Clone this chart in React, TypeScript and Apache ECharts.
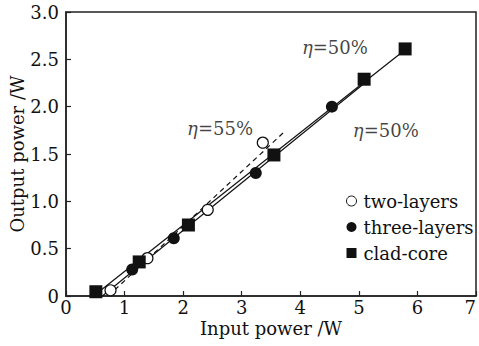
import React, { useEffect, useRef } from 'react';
import * as echarts from 'echarts';

const twoLayersX = [0.76, 1.39, 2.42, 3.36];
const twoLayersY = [0.06, 0.4, 0.91, 1.62];
const threeLayersX = [1.13, 1.84, 3.24, 4.54];
const threeLayersY = [0.28, 0.61, 1.3, 2.0];
const cladCoreX = [0.51, 1.25, 2.09, 3.55, 5.09, 5.79];
const cladCoreY = [0.045, 0.36, 0.75, 1.49, 2.29, 2.61];

const fitTwoX = [0.72, 3.72];
const fitTwoY = [0, 1.73];
const fitCladX = [0.47, 5.85];
const fitCladY = [0, 2.63];
const fitThreeX = [0.62, 5.1];
const fitThreeY = [0, 2.25];

const noteTexts = ['55%', '50%', '50%'];
const noteX = [2.63, 4.59, 5.46];
const noteY = [1.77, 2.63, 1.75];

const xTicks = [0, 1, 2, 3, 4, 5, 6, 7];
const yTickLabels = ['0', '0.5', '1.0', '1.5', '2.0', '2.5', '3.0'];

const zip = (xs: number[], ys: number[]) => xs.map((x, i) => [x, ys[i]]);

const FONT = 'DejaVu Serif';
const INK = '#111';
const FS = 18;

export default function App() {
  const ref = useRef<HTMLDivElement>(null);
  useEffect(() => {
    if (!ref.current) return;
    const chart = echarts.init(ref.current, undefined, { renderer: 'svg' });
    const fitStyle = { color: INK, width: 1.2 };
    chart.setOption({
      animation: false,
      backgroundColor: '#fff',
      textStyle: { fontFamily: FONT, color: INK },
      grid: {
        left: 66, right: 3, top: 12, bottom: 50,
        outerBoundsMode: 'none', containLabel: false,
        show: true, borderColor: '#222', borderWidth: 1.5, backgroundColor: 'transparent',
      },
      xAxis: {
        type: 'value', min: 0, max: xTicks[xTicks.length - 1], interval: 1,
        name: 'Input power /W', nameLocation: 'middle', nameGap: 23, nameMoveOverlap: false,
        nameTextStyle: { fontFamily: FONT, fontSize: FS, color: INK },
        axisLine: { show: true, lineStyle: { color: '#222', width: 1.5 } },
        axisTick: { show: true, inside: true, length: 5, lineStyle: { color: '#222', width: 1.2 } },
        axisLabel: { fontFamily: FONT, fontSize: FS, color: INK, margin: 2, alignMaxLabel: 'right',
          formatter: (v: number) => String(v) },
        splitLine: { show: false },
      },
      yAxis: {
        type: 'value', min: 0, max: 3, interval: 0.5,
        name: 'Output power /W', nameLocation: 'middle', nameGap: 40, nameMoveOverlap: false,
        nameTextStyle: { fontFamily: FONT, fontSize: FS, color: INK },
        axisLine: { show: true, lineStyle: { color: '#222', width: 1.5 } },
        axisTick: { show: true, inside: true, length: 5, lineStyle: { color: '#222', width: 1.2 } },
        axisLabel: { fontFamily: FONT, fontSize: FS, color: INK, margin: 7,
          formatter: (v: number) => yTickLabels[Math.round(v / 0.5)] },
        splitLine: { show: false },
      },
      legend: {
        orient: 'vertical', left: 341, top: 187, itemGap: 8,
        itemWidth: 10, itemHeight: 10,
        textStyle: { fontFamily: FONT, fontSize: FS, color: INK, padding: [0, 0, 0, 2] },
        data: [
          { name: 'two-layers', icon: 'circle', itemStyle: { color: '#fff', borderColor: INK, borderWidth: 1 } },
          { name: 'three-layers', icon: 'circle' },
          { name: 'clad-core', icon: 'rect' },
        ],
      },
      series: [
        { type: 'line', name: 'fit-two', data: zip(fitTwoX, fitTwoY), symbol: 'none',
          lineStyle: { ...fitStyle, type: [5, 4] }, z: 1 },
        { type: 'line', name: 'fit-clad', data: zip(fitCladX, fitCladY), symbol: 'none',
          lineStyle: fitStyle, z: 1 },
        { type: 'line', name: 'fit-three', data: zip(fitThreeX, fitThreeY), symbol: 'none',
          lineStyle: fitStyle, z: 1 },
        { type: 'scatter', name: 'two-layers', data: zip(twoLayersX, twoLayersY), symbol: 'circle',
          symbolSize: 11, itemStyle: { color: '#fff', borderColor: INK, borderWidth: 1.2, opacity: 1 }, z: 3 },
        { type: 'scatter', name: 'three-layers', data: zip(threeLayersX, threeLayersY), symbol: 'circle',
          symbolSize: 12, itemStyle: { color: INK, opacity: 1 }, z: 3 },
        { type: 'scatter', name: 'clad-core', data: zip(cladCoreX, cladCoreY), symbol: 'rect',
          symbolSize: 13, itemStyle: { color: INK, opacity: 1 }, z: 4 },
        { type: 'scatter', name: 'notes', data: zip(noteX, noteY), symbolSize: 0, silent: true,
          label: {
            show: true, position: 'inside',
            formatter: (p: any) => `{i|η}{n|=${noteTexts[p.dataIndex]}}`,
            rich: {
              i: { fontFamily: FONT, fontStyle: 'italic', fontSize: FS, color: INK },
              n: { fontFamily: FONT, fontSize: FS, color: INK },
            },
          }, z: 5 },
      ],
    });
    return () => chart.dispose();
  }, []);
  return <div ref={ref} style={{ position: 'fixed', left: 0, top: 0, width: 479, height: 346 }} />;
}
